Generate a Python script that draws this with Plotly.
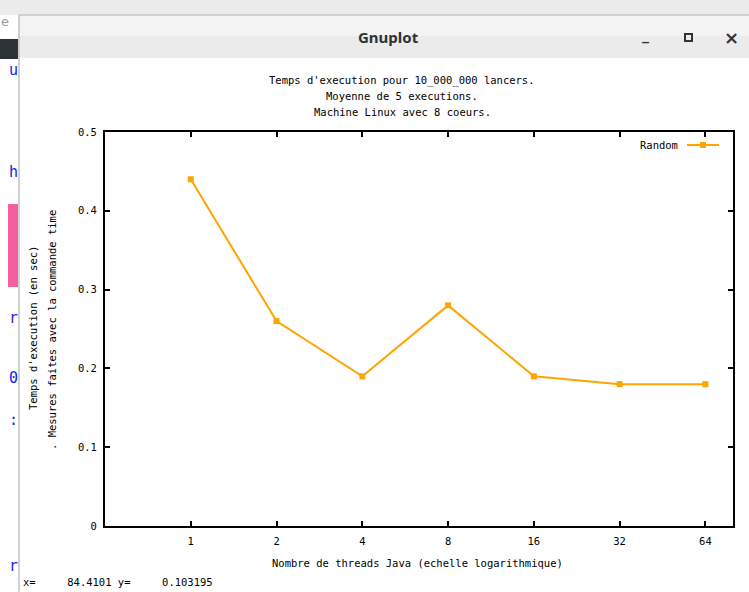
import plotly.graph_objects as go
import math

# ---- data ----
threads = [1, 2, 4, 8, 16, 32, 64]
times = [0.44, 0.26, 0.19, 0.28, 0.19, 0.18, 0.18]
x_tick_labels = ["1", "2", "4", "8", "16", "32", "64"]
y_ticks = [0, 0.1, 0.2, 0.3, 0.4, 0.5]
y_tick_labels = ["0", "0.1", "0.2", "0.3", "0.4", "0.5"]
series_name = "Random"
title_lines = [
    "Temps d'execution pour 10_000_000 lancers.",
    "Moyenne de 5 executions.",
    "Machine Linux avec 8 coeurs.",
]
y_label_lines = ["Temps d'execution (en sec)", ". Mesures faites avec la commande time"]
x_label = "Nombre de threads Java (echelle logarithmique)"
status_text = "x=     84.4101 y=     0.103195"
window_title = "Gnuplot"

# ---- geometry (pixels) ----
W, H = 749, 592
L, R, T, B = 105, 733, 132, 526
MONO = "DejaVu Sans Mono"
ORANGE = "#ffa500"


def px(x):
    return (x - L) / (R - L)


def py(y):
    return (B - y) / (B - T)


fig = go.Figure()
fig.add_trace(go.Scatter(
    x=threads, y=times, mode="lines+markers", name=series_name,
    line=dict(color=ORANGE, width=2),
    marker=dict(symbol="square", size=6, color=ORANGE),
    showlegend=False,
))

shapes = []
ann = []

# background outside window
shapes.append(dict(type="rect", xref="paper", yref="paper", x0=px(0), x1=px(W + 5), y0=py(-5), y1=py(15),
                   fillcolor="#ececec", line=dict(width=0), layer="below"))
shapes.append(dict(type="rect", xref="paper", yref="paper", x0=px(0), x1=px(18), y0=py(39), y1=py(59),
                   fillcolor="#2e3436", line=dict(width=0), layer="below"))
shapes.append(dict(type="rect", xref="paper", yref="paper", x0=px(8), x1=px(18), y0=py(204), y1=py(287),
                   fillcolor="#f2609e", line=dict(width=0), layer="below"))
for ch, yy in [("u", 70), ("h", 172), ("r", 318), ("0", 378), (":", 420), ("r", 566)]:
    ann.append(dict(text=ch, xref="paper", yref="paper", x=px(7), y=py(yy), showarrow=False,
                    xanchor="left", yanchor="middle", font=dict(family=MONO, size=15, color="#2020ee")))
ann.append(dict(text="e", xref="paper", yref="paper", x=px(-1), y=py(22), showarrow=False,
                xanchor="left", yanchor="middle", font=dict(family="DejaVu Sans", size=13, color="#999999")))

# window title bar
shapes.append(dict(type="rect", xref="paper", yref="paper", x0=px(19), x1=px(W + 5), y0=py(15), y1=py(36),
                   fillcolor="#f3f3f3", line=dict(width=0)))
shapes.append(dict(type="rect", xref="paper", yref="paper", x0=px(19), x1=px(W + 5), y0=py(36), y1=py(58),
                   fillcolor="#ebebeb", line=dict(width=0)))
shapes.append(dict(type="rect", xref="paper", yref="paper", x0=px(19), x1=px(W + 5), y0=py(58), y1=py(H),
                   fillcolor="white", line=dict(width=0), layer="below"))
shapes.append(dict(type="line", xref="paper", yref="paper", x0=px(19), x1=px(W + 5), y0=py(15), y1=py(15),
                   line=dict(color="#b0b0b0", width=1)))
shapes.append(dict(type="line", xref="paper", yref="paper", x0=px(19), x1=px(19), y0=py(15), y1=py(H),
                   line=dict(color="#c0c0c0", width=1.5)))
ann.append(dict(text=window_title, xref="paper", yref="paper", x=px(388), y=py(37), showarrow=False,
                xanchor="center", yanchor="middle",
                font=dict(family="Noto Sans", size=15, color="#2e3436", weight="bold")))
ann.append(dict(text="_", xref="paper", yref="paper", x=px(645), y=py(35), showarrow=False,
                xanchor="center", yanchor="middle",
                font=dict(family="DejaVu Sans", size=14, color="#2e3436", weight="bold")))
shapes.append(dict(type="rect", xref="paper", yref="paper", x0=px(685), x1=px(692), y0=py(34), y1=py(41),
                   line=dict(color="#2e3436", width=2)))
ann.append(dict(text="×", xref="paper", yref="paper", x=px(731), y=py(37), showarrow=False,
                xanchor="center", yanchor="middle",
                font=dict(family="DejaVu Sans", size=18, color="#2e3436", weight="bold")))

# chart titles
for i, line in enumerate(title_lines):
    ann.append(dict(text=line, xref="paper", yref="paper", x=px(402), y=py(80 + 16 * i), showarrow=False,
                    xanchor="center", yanchor="middle", font=dict(family=MONO, size=10.5, color="black")))

# y-axis label (two rotated lines)
ann.append(dict(text=y_label_lines[0], xref="paper", yref="paper", x=px(33), y=py(328), showarrow=False,
                textangle=-90, xanchor="center", yanchor="middle",
                font=dict(family=MONO, size=10.5, color="black")))
ann.append(dict(text=y_label_lines[1], xref="paper", yref="paper", x=px(52), y=py(330), showarrow=False,
                textangle=-90, xanchor="center", yanchor="middle",
                font=dict(family=MONO, size=10.5, color="black")))

# x-axis label
ann.append(dict(text=x_label, xref="paper", yref="paper", x=px(417), y=py(563), showarrow=False,
                xanchor="center", yanchor="middle", font=dict(family=MONO, size=10.5, color="black")))

# legend (gnuplot style: text then sample)
ann.append(dict(text=series_name, xref="paper", yref="paper", x=px(680), y=py(145), showarrow=False,
                xanchor="right", yanchor="middle", font=dict(family=MONO, size=10.5, color="black")))
shapes.append(dict(type="line", xref="paper", yref="paper", x0=px(687), x1=px(719), y0=py(145), y1=py(145),
                   line=dict(color=ORANGE, width=2)))
shapes.append(dict(type="rect", xref="paper", yref="paper", x0=px(700), x1=px(706), y0=py(142), y1=py(148),
                   fillcolor=ORANGE, line=dict(width=0)))

# status line
ann.append(dict(text=status_text, xref="paper", yref="paper", x=px(21), y=py(582), showarrow=False,
                xanchor="left", yanchor="middle", font=dict(family=MONO, size=10.5, color="black")))

axis_common = dict(
    showline=True, linecolor="black", linewidth=2, mirror="ticks",
    ticks="inside", ticklen=5, tickwidth=2, tickcolor="black",
    showgrid=False, zeroline=False,
    tickfont=dict(family=MONO, size=10.5, color="black"),
)

fig.update_layout(
    width=W, height=H,
    margin=dict(l=L, r=W - R, t=T, b=H - B),
    paper_bgcolor="white", plot_bgcolor="white",
    xaxis=dict(type="log", range=[math.log10(0.5), math.log10(80)],
               tickmode="array", tickvals=threads, ticktext=x_tick_labels,
               ticklabelstandoff=4, **axis_common),
    yaxis=dict(range=[0, 0.5], tickmode="array", tickvals=y_ticks, ticktext=y_tick_labels,
               ticklabelstandoff=4, **axis_common),
    shapes=shapes, annotations=ann, showlegend=False,
)

fig.write_html(
    "out.html",
    config={"displayModeBar": False},
    post_script="document.body.style.margin='0';document.body.style.overflow='hidden';",
)
